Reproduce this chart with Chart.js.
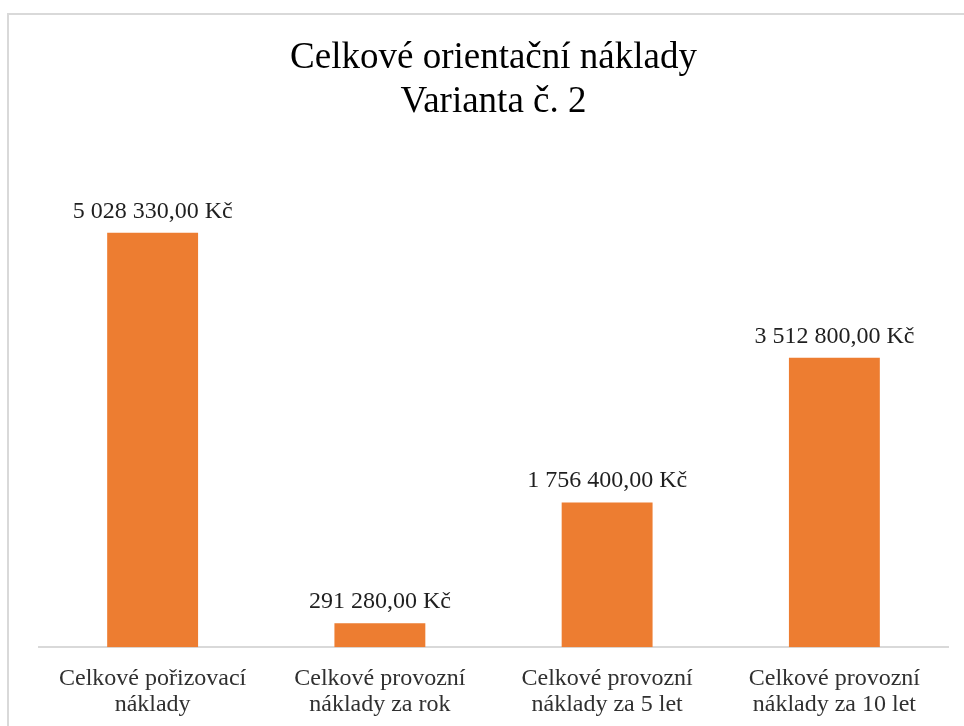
<!DOCTYPE html>
<html>
<head>
<meta charset="utf-8">
<script src="https://cdn.jsdelivr.net/npm/chart.js@4/dist/chart.umd.min.js"></script>
<style>
  html, body { margin: 0; padding: 0; background: #fff; overflow: hidden; }
  #frame { position: absolute; left: 7px; top: 13px; width: 1000px; height: 800px; border: 2px solid #d9d9d9; box-sizing: border-box; }
  #wrap { position: absolute; left: 0; top: 0; width: 964px; height: 726px; overflow: hidden; }
</style>
</head>
<body>
<div id="frame"></div>
<div id="wrap"><canvas id="c" width="964" height="740"></canvas></div>
<script>
const titleLines = ['Celkové orientační náklady', 'Varianta č. 2'];
const categories = [
  ['Celkové pořizovací', 'náklady'],
  ['Celkové provozní', 'náklady za rok'],
  ['Celkové provozní', 'náklady za 5 let'],
  ['Celkové provozní', 'náklady za 10 let']
];
const values = [5028330, 291280, 1756400, 3512800];
const yMin = 0;
const yMax = 6000000;

function formatKc(v) {
  const parts = v.toFixed(2).split('.');
  const intPart = parts[0].replace(/\B(?=(\d{3})+(?!\d))/g, ' ');
  return intPart + ',' + parts[1] + ' Kč';
}

const dataLabels = {
  id: 'dataLabels',
  afterDatasetsDraw(chart) {
    const ctx = chart.ctx;
    const meta = chart.getDatasetMeta(0);
    ctx.save();
    ctx.font = '24px "Liberation Serif", "Times New Roman", serif';
    ctx.fillStyle = '#1f1f1f';
    ctx.textAlign = 'center';
    ctx.textBaseline = 'alphabetic';
    meta.data.forEach((bar, i) => {
      ctx.fillText(formatKc(values[i]), bar.x, bar.y - 15);
    });
    ctx.restore();
  }
};

new Chart(document.getElementById('c'), {
  type: 'bar',
  data: {
    labels: categories,
    datasets: [{
      data: values,
      backgroundColor: '#ED7D31',
      borderWidth: 0,
      barPercentage: 0.4,
      categoryPercentage: 1.0
    }]
  },
  options: {
    responsive: false,
    animation: false,
    events: [],
    layout: { padding: { left: 39, right: 16, top: 0, bottom: 4 } },
    plugins: {
      legend: { display: false },
      tooltip: { enabled: false },
      title: {
        display: true,
        text: titleLines,
        color: '#000',
        font: { family: '"Liberation Serif", "Times New Roman", serif', size: 37, weight: 'normal', lineHeight: 1.2 },
        padding: { top: 36, bottom: 28 }
      }
    },
    scales: {
      x: {
        grid: { display: false, drawTicks: false },
        border: { display: true, color: '#d9d9d9', width: 2 },
        ticks: {
          color: '#303030',
          padding: 18,
          maxRotation: 0,
          autoSkip: false,
          font: { family: '"Liberation Serif", "Times New Roman", serif', size: 24, lineHeight: 1.1 }
        }
      },
      y: {
        display: false,
        min: yMin,
        max: yMax
      }
    }
  },
  plugins: [dataLabels]
});
</script>
</body>
</html>
